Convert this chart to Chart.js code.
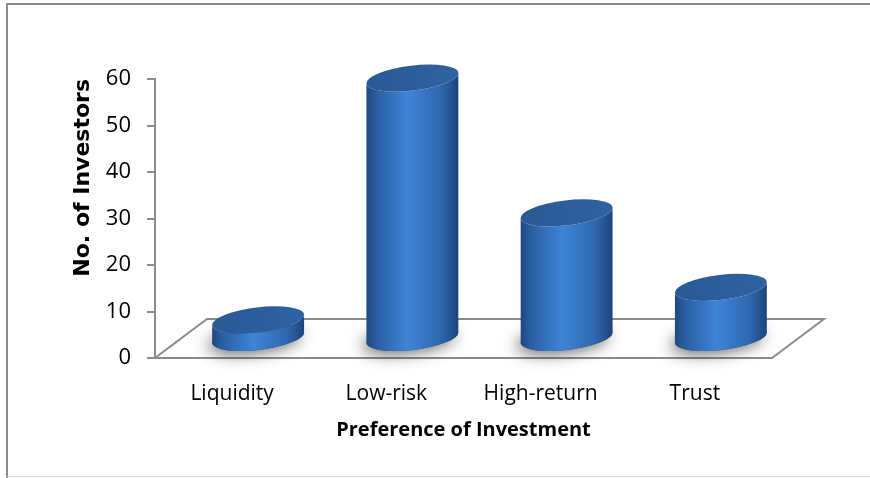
<!DOCTYPE html>
<html>
<head>
<meta charset="utf-8">
<script src="https://cdn.jsdelivr.net/npm/chart.js@4.4.1/dist/chart.umd.min.js"></script>
<style>
  html, body { margin: 0; padding: 0; background: #fff; }
  canvas { display: block; }
</style>
</head>
<body>
<canvas id="investChart" width="870" height="478"></canvas>
<script>
const categories = ['Liquidity', 'Low-risk', 'High-return', 'Trust'];
const investors = [4, 56, 27, 11];
const yTicks = [0, 10, 20, 30, 40, 50, 60];

// depth of the 3D floor (front edge -> back edge)
const DEPTH_X = 52, DEPTH_Y = 39;
const LINE = '#8c8c8c';

const frame = {
  id: 'frame',
  beforeDraw(chart) {
    const c = chart.ctx;
    c.save();
    c.fillStyle = '#fff';
    c.fillRect(0, 0, chart.width, chart.height);
    c.strokeStyle = LINE;
    c.lineWidth = 2;
    c.beginPath();
    c.moveTo(7, chart.height);
    c.lineTo(7, 4);
    c.lineTo(chart.width, 4);
    c.stroke();
    c.strokeStyle = '#d9d9d9';
    c.lineWidth = 1;
    c.beginPath();
    c.moveTo(7, chart.height - 1.5);
    c.lineTo(chart.width, chart.height - 1.5);
    c.stroke();
    c.restore();
  },
  beforeDatasetsDraw(chart) {
    // floor
    const {left, right, bottom} = chart.chartArea;
    const c = chart.ctx;
    c.save();
    c.strokeStyle = LINE;
    c.lineWidth = 2;
    c.beginPath();
    c.moveTo(left, bottom);
    c.lineTo(right, bottom);
    c.lineTo(right + DEPTH_X, bottom - DEPTH_Y);
    c.lineTo(left + DEPTH_X, bottom - DEPTH_Y);
    c.closePath();
    c.stroke();
    c.restore();
  }
};

const cylinders = {
  id: 'cylinders',
  afterDatasetsDraw(chart) {
    const c = chart.ctx;
    const rot = -0.12, ry = 12.5;
    chart.getDatasetMeta(0).data.forEach(bar => {
      const cx = bar.x + DEPTH_X / 2;
      const top = bar.y - DEPTH_Y / 2;
      const bot = bar.base - DEPTH_Y / 2;
      const rx = bar.width / 2;

      // soft shadow at the base
      c.save();
      c.shadowColor = 'rgba(0,0,0,0.6)';
      c.shadowBlur = 16;
      c.shadowOffsetX = -4;
      c.shadowOffsetY = 3;
      c.fillStyle = '#4a4a4a';
      c.beginPath();
      c.ellipse(cx, bot, rx, ry, rot, 0, Math.PI * 2);
      c.fill();
      c.restore();

      // body
      const g = c.createLinearGradient(cx - rx, 0, cx + rx, 0);
      g.addColorStop(0, '#1d477f');
      g.addColorStop(0.12, '#2b5fa2');
      g.addColorStop(0.45, '#3e84d7');
      g.addColorStop(0.8, '#3068b0');
      g.addColorStop(1, '#1c4479');
      c.save();
      c.beginPath();
      c.ellipse(cx, bot, rx, ry, rot, 0, Math.PI);
      c.ellipse(cx, top, rx, ry, rot, Math.PI, 0, true);
      c.closePath();
      c.fillStyle = g;
      c.fill();

      // top face
      const tg = c.createLinearGradient(cx - rx, top, cx + rx, top);
      tg.addColorStop(0, '#2a5994');
      tg.addColorStop(1, '#2e62a3');
      c.beginPath();
      c.ellipse(cx, top, rx, ry, rot, 0, Math.PI * 2);
      c.fillStyle = tg;
      c.fill();
      c.restore();
    });
  }
};

new Chart(document.getElementById('investChart'), {
  type: 'bar',
  data: {
    labels: categories,
    datasets: [{
      data: investors,
      backgroundColor: 'rgba(0,0,0,0)',
      borderWidth: 0,
      barPercentage: 0.6,
      categoryPercentage: 1
    }]
  },
  options: {
    responsive: false,
    animation: false,
    events: [],
    layout: { padding: { top: 79, right: 98, left: 0, bottom: 0 } },
    plugins: {
      legend: { display: false },
      tooltip: { enabled: false }
    },
    scales: {
      x: {
        afterFit(s) { s.height = 120; },
        grid: { display: false },
        border: { display: false },
        ticks: {
          padding: 15,
          color: '#000',
          font: { family: "'Open Sans', sans-serif", size: 21 }
        },
        title: {
          display: true,
          text: 'Preference of Investment',
          color: '#000',
          font: { family: "'Open Sans', sans-serif", size: 20, weight: 'bold' },
          padding: { top: 0, bottom: 36 }
        }
      },
      y: {
        min: 0,
        max: 60,
        afterFit(s) { s.width = 155; },
        afterBuildTicks(s) { s.ticks = yTicks.map(v => ({ value: v })); },
        border: { color: LINE, width: 2 },
        grid: { drawOnChartArea: false, drawTicks: true, tickLength: 8, color: LINE, lineWidth: 2 },
        ticks: {
          padding: 16,
          color: '#000',
          font: { family: "'Open Sans', sans-serif", size: 22 }
        },
        title: {
          display: true,
          text: 'No. of Investors',
          align: 'end',
          color: '#000',
          font: { family: "'DejaVu Sans', sans-serif", size: 22, weight: 'bold' },
          padding: { top: 70, bottom: 0 }
        }
      }
    }
  },
  plugins: [frame, cylinders]
});
</script>
</body>
</html>
